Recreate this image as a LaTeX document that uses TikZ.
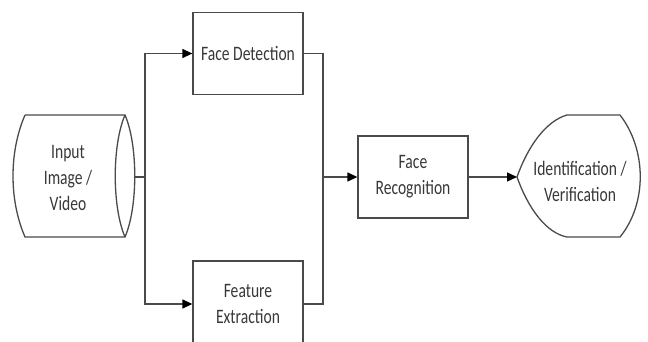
\documentclass[tikz,border=0pt]{standalone}
\usepackage{fontspec}
\newfontfamily\lbl[FakeStretch=0.76]{Carlito}
\usetikzlibrary{arrows.meta}
\definecolor{ln}{HTML}{4A4A4A}
\definecolor{tx}{HTML}{383838}
\tikzset{
  lbl/.style={text=tx,font=\lbl\fontsize{20.5}{26}\selectfont,align=center,inner sep=0pt},
  box/.style={draw=ln,line width=1.3pt,minimum width=110pt,minimum height=82pt,inner sep=0pt,text=tx,font=\lbl\fontsize{20.5}{26}\selectfont,align=center},
  conn/.style={draw=ln,line width=1.3pt},
  arr/.style={conn,-{Triangle[length=10pt,width=9pt,color=black]}}
}
\begin{document}
\begin{tikzpicture}[x=1pt,y=-1pt]
\useasboundingbox (0,0) rectangle (648,342);
% input cylinder
\draw[ln,line width=1.3pt] (25,115) -- (125,115)
  .. controls (138,145) and (138,207) .. (125,237) -- (25,237)
  .. controls (9,200) and (9,152) .. (25,115);
\draw[ln,line width=1.3pt] (125,115) .. controls (112,145) and (112,207) .. (125,237);
\node[lbl] (in) at (68,178) {Input\\Image /\\Video};
\coordinate (inr) at (134.8,177);
\coordinate (j1) at (145,177);
\coordinate (j2) at (323,177);
% boxes
\node[box] (fd) at (248,53.5) {Face Detection};
\node[box,minimum height=86pt] (fe) at (248,304) {};
\node[lbl] (fet) at (248,304) {Feature\\Extraction};
\node[box] (fr) at (413,177) {Face\\Recognition};
% display shape
\draw[ln,line width=1.3pt] (517,177) .. controls (528,146) and (546,121) .. (567,115)
  -- (620,115) .. controls (647,150) and (647,204) .. (620,237)
  -- (567,237) .. controls (546,233) and (528,208) .. (517,177);
\node[lbl] (id) at (580,181) {Identification /\\Verification};
\coordinate (idw) at (517,177);
% connectors
\draw[conn] (inr) -- (j1);
\draw[arr] (j1) |- (fd.west);
\draw[arr] (j1) |- (fe.west);
\draw[conn] (fd.east) -| (j2);
\draw[conn] (fe.east) -| (j2);
\draw[arr] (j2) -- (fr.west);
\draw[arr] (fr.east) -- (idw);
\end{tikzpicture}
\end{document}
